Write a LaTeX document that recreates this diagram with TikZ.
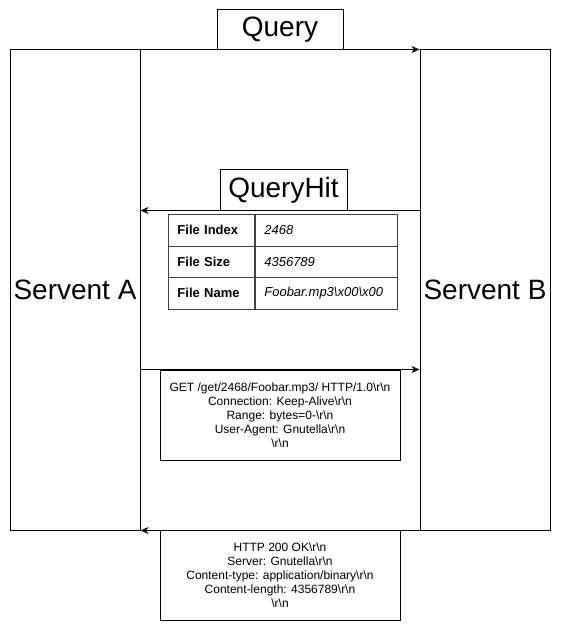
\documentclass[tikz,border=0pt]{standalone}
\usepackage{fontspec}
\setmainfont{Liberation Sans}
\usetikzlibrary{positioning,calc,arrows.meta}

\newcommand{\CRLF}{\textbackslash r\textbackslash n}
\newcommand{\bsl}{\textbackslash}

\begin{document}
\begin{tikzpicture}[x=1pt,y=-1pt,
  box/.style={draw,line width=1pt,inner sep=0pt,rectangle},
  msg/.style={-{Stealth[length=8pt,width=7pt,inset=2.5pt]},line width=1pt},
  big/.style={font=\fontsize{28}{32}\selectfont},
  small/.style={font=\fontsize{12}{14}\selectfont,align=center},
  cell/.style={draw=black!75,line width=0.9pt,minimum height=31.5pt,inner xsep=9pt,inner ysep=0pt,anchor=north west,align=left,font=\fontsize{13}{15}\selectfont}]

\useasboundingbox (0,0) rectangle (561,631);

% the two servents
\node[box,big,minimum width=130pt,minimum height=480pt] (servA) at (75,290) {Servent A};
\node[box,big,minimum width=130pt,minimum height=480pt] (servB) at (485,290) {Servent B};

% message labels
\node[box,big,minimum width=126pt,minimum height=40pt] (query) at (280,30) {Query};
\node[box,big,minimum width=127pt,minimum height=40pt] (queryhit) at (283.5,190) {QueryHit};

% queryhit table
\coordinate (tbl) at (168,214);
\def\rowh{31.5}
\foreach \key/\val [count=\i] in {File Index/2468,File Size/4356789,File Name/Foobar.mp3\bsl x00\bsl x00} {
  \node[cell,text width=68pt,font=\fontsize{13}{15}\selectfont\bfseries] (key\i) at ($(tbl)+(0,{(\i-1)*\rowh})$) {\key};
  \node[cell,text width=124pt,font=\fontsize{13}{15}\selectfont\itshape] (val\i) at (key\i.north east) {\val};
}

% http request / response
\node[box,small,minimum width=240pt,minimum height=90pt] (get) at (280,415)
  {GET /get/2468/Foobar.mp3/ HTTP/1.0\CRLF\\Connection: Keep-Alive\CRLF\\Range: bytes=0-\CRLF\\User-Agent: Gnutella\CRLF\\\CRLF};
\node[box,small,minimum width=240pt,minimum height=90pt] (http) at (280,575)
  {HTTP 200 OK\CRLF\\Server: Gnutella\CRLF\\Content-type: application/binary\CRLF\\Content-length: 4356789\CRLF\\\CRLF};

% messages
\draw[msg] (servA.north east) -- (servB.north west);
\draw[msg] (queryhit.south -| servB.west) -- (queryhit.south -| servA.east);
\draw[msg] (get.north -| servA.east) -- (get.north -| servB.west);
\draw[msg] (servB.south west) -- (servA.south east);

\end{tikzpicture}
\end{document}
